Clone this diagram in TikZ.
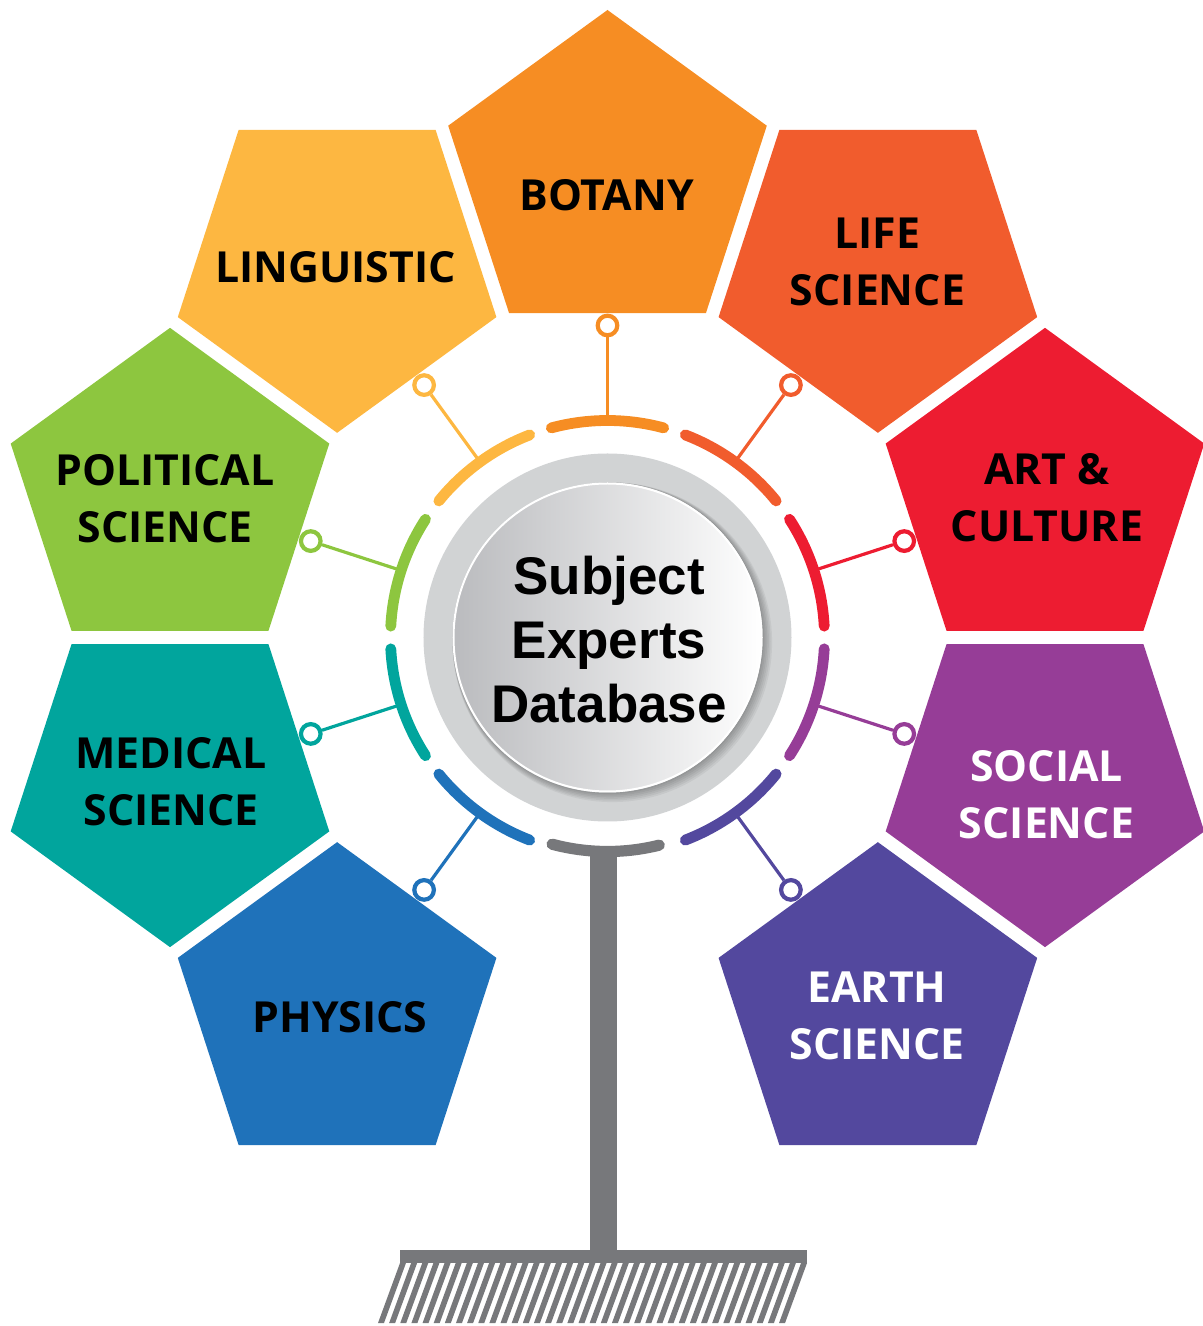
\documentclass[tikz,border=0pt]{standalone}
\usepackage{fontspec}
\usetikzlibrary{shapes.geometric,calc}
\newfontfamily\petalfont{Open Sans}
\newfontfamily\hubfont{Liberation Sans}
\definecolor{botany}{HTML}{F68D23}
\definecolor{life}{HTML}{F15C2D}
\definecolor{art}{HTML}{ED1C31}
\definecolor{social}{HTML}{963D97}
\definecolor{earth}{HTML}{53489E}
\definecolor{physics}{HTML}{1F72BA}
\definecolor{medical}{HTML}{01A59D}
\definecolor{political}{HTML}{8DC63F}
\definecolor{linguistic}{HTML}{FDB741}
\definecolor{standgray}{HTML}{77787B}
\definecolor{ringgray}{HTML}{D1D3D4}
\definecolor{hubgray}{HTML}{BABBBE}
\tikzset{
  petal/.style={regular polygon, regular polygon sides=5, fill=#1, draw=none,
                minimum size=167.5pt, inner sep=0pt, outer sep=0pt},
  petaltext/.style={text=#1, align=center, inner sep=0pt,
                    font=\petalfont\bfseries\fontsize{21.4pt}{28.5pt}\selectfont},
  band/.style={line width=5.4pt, line cap=round, draw=#1},
  link/.style={line width=1.6pt, draw=#1},
  knob/.style={circle, draw=#1, fill=white, line width=2.1pt, minimum size=9.8pt, inner sep=0pt},
  hub/.style={align=center, inner sep=0pt,
              font=\hubfont\bfseries\fontsize{26.5pt}{32pt}\selectfont}
}
\begin{document}
\begin{tikzpicture}[x=0.5pt, y=0.5pt]
  \useasboundingbox (-607.5,-688.5) rectangle (595.5,637.5);
  % subject petals
  \foreach \i/\a/\c/\tc/\tx/\ty/\t in {
      1/90/botany/black/-1/442.5/BOTANY,
      2/54/life/black/270/375.5/{LIFE\\SCIENCE},
      3/18/art/black/439.5/139.5/{ART \&\\CULTURE},
      4/-18/social/white/439/-157.5/{SOCIAL\\SCIENCE},
      5/-54/earth/white/269.5/-378.5/{EARTH\\SCIENCE},
      6/-126/physics/black/-267.5/-379.5/PHYSICS,
      7/198/medical/black/-436.5/-144.5/{MEDICAL\\SCIENCE},
      8/162/political/black/-442.5/138.5/{POLITICAL\\SCIENCE},
      9/126/linguistic/black/-272/370/LINGUISTIC}{
    \pgfmathsetmacro\rot{\a-90}
    \node[petal=\c, shape border rotate=\rot] (p\i) at (\a:460) {};
    \node[petaltext=\tc] (t\i) at (\tx,\ty) {\t};
    \draw[band=\c] (\a-15:217) arc[start angle=\a-15, end angle=\a+15, radius=217];
    \coordinate (a\i) at (\a:217);
    \node[knob=\c] (k\i) at (\a:312) {};
    \draw[link=\c] (a\i) -- (k\i);
  }
  % hub
  \fill[ringgray] (0,0) circle (184);
  \foreach \s in {1,...,6}
    \fill[black, opacity=0.05] ({\s*0.8},{-\s*0.8}) circle ({155+\s*0.8});
  \shade[left color=hubgray, right color=white] (0,0) circle (155);
  \draw[white, line width=1pt] (0,0) circle (154);
  \node[hub] (hub) at (1.5,-2) {Subject\\Experts\\Database};
  % stand
  \draw[band=standgray, line width=5.6pt] (255:214) arc[start angle=255, end angle=284, radius=214];
  \fill[standgray] (-17.5,-214) rectangle (9.5,-612.5);
  \fill[standgray] (-207.5,-612.5) rectangle (199.5,-625.5);
  \foreach \k in {0,...,36}
    \fill[standgray] ({-207.5+11.14*\k},-625.5) -- ++(6,0) -- ++(-22,-60) -- ++(-6,0) -- cycle;
\end{tikzpicture}
\end{document}
